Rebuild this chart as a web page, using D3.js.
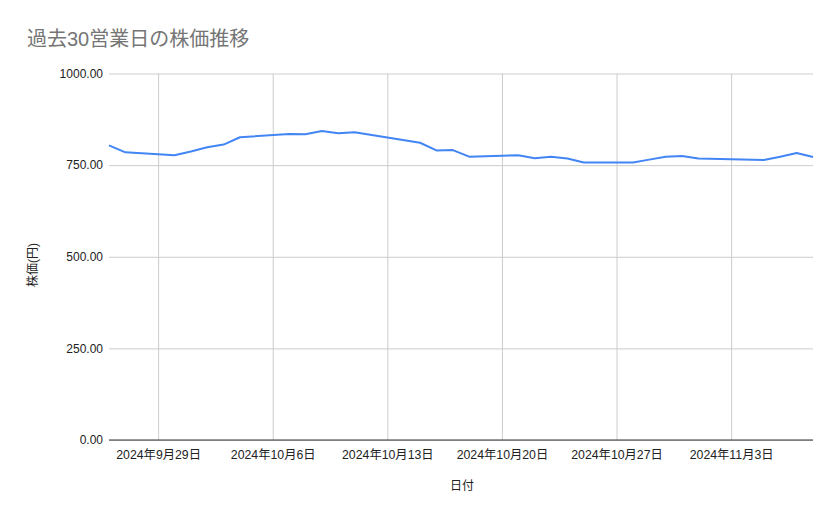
<!DOCTYPE html>
<html>
<head>
<meta charset="utf-8">
<script src="https://d3js.org/d3.v7.min.js"></script>
<style>
  body { margin: 0; background: #fff; }
  text { font-family: "Liberation Sans", Arial, "Noto Sans CJK JP", sans-serif; }
</style>
</head>
<body>
<div id="chart"></div>
<script>
// trading days (10/14 and 11/4 are holidays)
dates = ['2024-09-26','2024-09-27','2024-09-30','2024-10-01','2024-10-02','2024-10-03','2024-10-04',
  '2024-10-07','2024-10-08','2024-10-09','2024-10-10','2024-10-11',
  '2024-10-15','2024-10-16','2024-10-17','2024-10-18',
  '2024-10-21','2024-10-22','2024-10-23','2024-10-24','2024-10-25',
  '2024-10-28','2024-10-29','2024-10-30','2024-10-31','2024-11-01',
  '2024-11-05','2024-11-06','2024-11-07','2024-11-08']
prices = [804,785,777,787,799,806,826,
  835,834,843,837,840,
  811,790,791,773,
  777,769,773,768,757,
  757,765,773,775,768,
  764,773,783,772]
yTicks = [0,250,500,750,1000]
xTicks = ['2024-09-29','2024-10-06','2024-10-13','2024-10-20','2024-10-27','2024-11-03']

width = 839
height = 519
margin = {left: 109, right: 26, top: 73.5, bottom: 79}

parse = d3.timeParse('%Y-%m-%d')
data = dates.map((d, i) => ({date: parse(d), price: prices[i]}))

svg = d3.select('#chart').append('svg')
  .attr('width', width)
  .attr('height', height)

xScale = d3.scaleTime()
  .domain([parse('2024-09-26'), parse('2024-11-08')])
  .range([margin.left, width - margin.right])

yScale = d3.scaleLinear()
  .domain([0, 1000])
  .range([height - margin.bottom, margin.top])

// title
svg.append('text')
  .attr('x', 27).attr('y', 46)
  .attr('font-size', '20px')
  .attr('fill', '#757575')
  .text('過去30営業日の株価推移')

// horizontal grid + y labels
yAxis = d3.axisLeft(yScale)
  .tickValues(yTicks)
  .tickSize(-(width - margin.left - margin.right))
  .tickPadding(6)
  .tickFormat(d3.format('.2f'))

gy = svg.append('g')
  .attr('transform', `translate(${margin.left},0)`)
  .call(yAxis)
gy.select('.domain').remove()
gy.selectAll('line').attr('stroke', '#cccccc')
gy.selectAll('text').attr('font-size', '12px').attr('fill', '#222')

// vertical grid + x labels
xAxis = d3.axisBottom(xScale)
  .tickValues(xTicks.map(parse))
  .tickSize(-(height - margin.top - margin.bottom))
  .tickPadding(10)
  .tickFormat(d3.timeFormat('%Y年%-m月%-d日'))

gx = svg.append('g')
  .attr('transform', `translate(0,${height - margin.bottom})`)
  .call(xAxis)
gx.select('.domain').remove()
gx.selectAll('line').attr('stroke', '#cccccc')
gx.selectAll('text').attr('font-size', '12.3px').attr('fill', '#222')

// baseline
svg.append('line')
  .attr('x1', margin.left).attr('x2', width - margin.right)
  .attr('y1', yScale(0)).attr('y2', yScale(0))
  .attr('stroke', '#333')

// line
line = d3.line()
  .x(d => xScale(d.date))
  .y(d => yScale(d.price))

svg.append('path')
  .datum(data)
  .attr('fill', 'none')
  .attr('stroke', '#4285F4')
  .attr('stroke-width', 2)
  .attr('stroke-linejoin', 'round')
  .attr('d', line)

// axis titles
svg.append('text')
  .attr('x', 462).attr('y', 490)
  .attr('text-anchor', 'middle')
  .attr('font-size', '12px')
  .attr('fill', '#222')
  .text('日付')

svg.append('text')
  .attr('transform', 'translate(37,265) rotate(-90)')
  .attr('text-anchor', 'middle')
  .attr('font-size', '12px')
  .attr('fill', '#222')
  .text('株価(円)')
</script>
</body>
</html>
